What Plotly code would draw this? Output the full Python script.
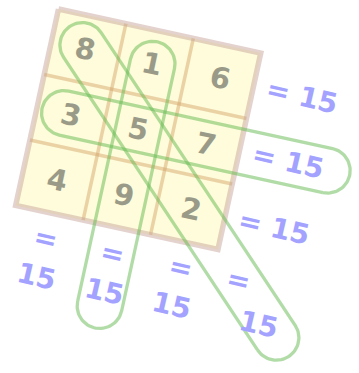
import numpy as np
import plotly.graph_objects as go

# ---- data ----
magic = [[8, 1, 6],
         [3, 5, 7],
         [4, 9, 2]]
highlighted = [("diag", 0), ("col", 1), ("row", 1)]

rows = len(magic)
cols = len(magic[0])
row_sums = [sum(r) for r in magic]
col_sums = [sum(magic[r][c] for r in range(rows)) for c in range(cols)]
diag_sum = sum(magic[i][i] for i in range(rows))

# ---- geometry (rotated grid frame -> page pixels) ----
W, H = 359, 373
origin = np.array([58.5, 9.0])
theta = np.deg2rad(12.3)
cw, ch = 69.0, 67.0
e1 = np.array([np.cos(theta), np.sin(theta)])
e2 = np.array([-np.sin(theta), np.cos(theta)])


def P(u, v):
    return origin + u * cw * e1 + v * ch * e2


def poly(points):
    pts = np.array(points)
    return list(pts[:, 0]), list(pts[:, 1])


def capsule(a, b, r, n=40):
    a, b = np.array(a), np.array(b)
    d = (b - a) / np.linalg.norm(b - a)
    nn = np.array([-d[1], d[0]])
    t = np.linspace(0, np.pi, n)
    arc_b = [b + r * (nn * np.cos(s) + d * np.sin(s)) for s in t]
    arc_a = [a + r * (-nn * np.cos(s) - d * np.sin(s)) for s in t]
    pts = arc_b + arc_a + [arc_b[0]]
    return poly(pts)


fig = go.Figure()

# square fill
x, y = poly([P(0, 0), P(cols, 0), P(cols, rows), P(0, rows), P(0, 0)])
fig.add_trace(go.Scatter(x=x, y=y, mode="lines", fill="toself",
                         fillcolor="#fefcdb", line=dict(width=0),
                         hoverinfo="skip", showlegend=False))

# inner grid lines
grid_col = "rgba(210,160,100,0.45)"
for k in range(1, cols):
    x, y = poly([P(k, 0), P(k, rows)])
    fig.add_trace(go.Scatter(x=x, y=y, mode="lines",
                             line=dict(color=grid_col, width=3.5),
                             hoverinfo="skip", showlegend=False))
for k in range(1, rows):
    x, y = poly([P(0, k), P(cols, k)])
    fig.add_trace(go.Scatter(x=x, y=y, mode="lines",
                             line=dict(color=grid_col, width=3.5),
                             hoverinfo="skip", showlegend=False))

# border
x, y = poly([P(0, 0), P(cols, 0), P(cols, rows), P(0, rows), P(0, 0)])
fig.add_trace(go.Scatter(x=x, y=y, mode="lines",
                         line=dict(color="rgba(200,165,155,0.5)", width=5.5),
                         hoverinfo="skip", showlegend=False))

# highlight capsules
cap_r = 22.5
cap_col = "rgba(100,185,80,0.5)"
for kind, idx in highlighted:
    if kind == "diag":
        a, b = P(0.45, 0.45), P(4.1, 4.1)
    elif kind == "col":
        a, b = P(idx + 0.5, 0.5), P(idx + 0.5, 4.2)
    else:
        a, b = P(0.4, idx + 0.5), P(4.31, idx + 0.5)
    x, y = capsule(a, b, cap_r)
    fig.add_trace(go.Scatter(x=x, y=y, mode="lines",
                             line=dict(color=cap_col, width=3.3),
                             hoverinfo="skip", showlegend=False))

font_family = "DejaVu Sans, sans-serif"
num_font = dict(family=font_family, size=29, color="#9a9a88", weight="bold")
lab_font = dict(family=font_family, size=28, color="#a3a3ff", weight="bold")
ann = []
for r in range(rows):
    for c in range(cols):
        px, py = P(c + 0.5, r + 0.5)
        ann.append(dict(x=px, y=py, text=str(magic[r][c]), showarrow=False,
                        textangle=12, font=num_font))

for r in range(rows):
    px, py = P(3.72, r + 0.5)
    ann.append(dict(x=px, y=py, text=f"= {row_sums[r]}", showarrow=False,
                    textangle=13, font=lab_font))
for c in range(cols):
    px, py = P(c + 0.52, 3.39)
    ann.append(dict(x=px, y=py, text="=", showarrow=False,
                    textangle=13, font=lab_font))
    px, py = P(c + 0.52, 3.97)
    ann.append(dict(x=px, y=py, text=str(col_sums[c]), showarrow=False,
                    textangle=13, font=lab_font))
px, py = P(3.39, 3.38)
ann.append(dict(x=px, y=py, text="=", showarrow=False, textangle=13, font=lab_font))
px, py = P(3.81, 3.97)
ann.append(dict(x=px, y=py, text=str(diag_sum), showarrow=False, textangle=13, font=lab_font))

fig.update_layout(
    width=W, height=H, margin=dict(l=0, r=0, t=0, b=0),
    paper_bgcolor="white", plot_bgcolor="white",
    xaxis=dict(range=[0, W], visible=False, fixedrange=True),
    yaxis=dict(range=[H, 0], visible=False, fixedrange=True),
    annotations=ann, showlegend=False,
)

fig.write_html("out.html", config={"displayModeBar": False},
               post_script="document.body.style.margin='0';document.body.style.overflow='hidden';")
